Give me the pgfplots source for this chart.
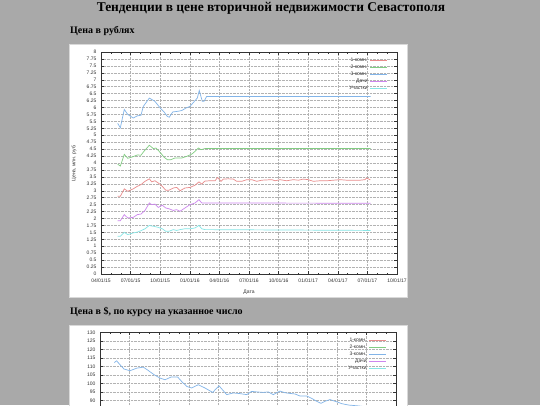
\documentclass[border=0pt]{standalone}
\usepackage{fontspec}
\setmainfont{Liberation Serif}
\newfontfamily\gp{Liberation Sans}
\usepackage{pgfplots}
\pgfplotsset{compat=1.18}

\definecolor{pagegray}{RGB}{169,169,169}
\definecolor{gpred}{RGB}{232,140,140}
\definecolor{gpgreen}{RGB}{130,205,130}
\definecolor{gpblue}{RGB}{130,180,232}
\definecolor{gppurple}{RGB}{205,135,238}
\definecolor{gpcyan}{RGB}{135,230,230}

% months since 04/01/15
\pgfplotsset{
  gnu/.style={
    scale only axis, width=296pt, height=222pt,
    xmin=0, xmax=30,
    xtick={0,3,...,30},
    xticklabels={04/01/15,07/01/15,10/01/15,01/01/16,04/01/16,07/01/16,10/01/16,01/01/17,04/01/17,07/01/17,10/01/17},
    minor xtick={0,...,30},
    tick align=inside,
    major tick length=3pt, minor tick length=1.5pt,
    tick style={black!80, line width=0.4pt},
    axis line style={black!80, line width=0.5pt},
    grid=major,
    grid style={densely dotted, black!30, line width=0.4pt},
    /pgf/number format/assume math mode=true,
    ticklabel style={font=\gp\fontsize{5}{6}\selectfont, text=black!80},
    yticklabel style={xshift=-1pt},
    xticklabel style={yshift=-1pt},
    label style={font=\gp\fontsize{5}{6}\selectfont, text=black!80},
    xlabel style={at={(rel axis cs:0.5,0)}, anchor=center, yshift=-18pt},
    ylabel style={at={(rel axis cs:0,0.5)}, anchor=center, yshift=27pt},
    legend cell align=right,
    legend plot pos=right,
    legend image code/.code={\draw[#1] (0pt,0pt) -- (17pt,0pt);},
    legend style={draw=none, fill=none, font=\gp\fontsize{5}{6}\selectfont,
      at={(rel axis cs:1,1)}, anchor=north east, xshift=-6pt, yshift=-2.5pt,
      nodes={inner sep=1pt, text height=3.7pt, text depth=1.3pt, text=black!80},
      column sep=1.5pt},
    every axis plot/.append style={line width=0.7pt},
  }
}

\begin{document}
\begin{tikzpicture}
\useasboundingbox (0pt,0pt) rectangle (540pt,-405pt);
\clip (0pt,0pt) rectangle (540pt,-405pt);
\fill[pagegray] (0pt,0pt) rectangle (540pt,-405pt);

\node[font=\bfseries\fontsize{13.4}{15}\selectfont] at (271pt,-8pt)
  {Тенденции в цене вторичной недвижимости Севастополя};
\node[anchor=west, inner sep=0pt, font=\bfseries\fontsize{10}{12}\selectfont] at (70pt,-31pt)
  {Цена в рублях};
\node[anchor=west, inner sep=0pt, font=\bfseries\fontsize{10}{12}\selectfont] at (70pt,-311.5pt)
  {Цена в \$, по курсу на указанное число};

\filldraw[fill=white, draw=black!15, line width=1pt] (69pt,-44pt) rectangle (407pt,-297pt);
\filldraw[fill=white, draw=black!15, line width=1pt] (69pt,-325pt) rectangle (407pt,-600pt);

\begin{axis}[gnu,
  at={(101pt,-52pt)}, anchor=north west,
  ymin=0, ymax=8, ytick={0,0.25,...,8},
  xlabel={Дата}, ylabel={Цена, млн. руб.},
]
\addplot[gpred] coordinates {
(1.69,2.80) (1.96,2.80) (2.36,3.07) (2.71,2.98) (3.27,3.07) (3.68,3.16)
(4.05,3.22) (4.46,3.34) (4.90,3.43) (5.14,3.32) (5.47,3.36) (5.81,3.28)
(6.21,3.16) (6.56,3.02) (6.89,3.02) (7.33,3.10) (7.67,3.12) (8.01,3.00)
(8.51,3.10) (9.02,3.12) (9.53,3.20) (9.93,3.32) (10.21,3.24) (10.54,3.35)
(11.05,3.36) (11.56,3.36) (11.82,3.48) (12.16,3.34) (12.40,3.42) (12.90,3.43)
(13.41,3.42) (13.75,3.34) (14.26,3.34) (14.77,3.40) (15.27,3.40) (15.78,3.34)
(16.29,3.38) (16.79,3.39) (17.30,3.40) (17.63,3.36) (18.14,3.40) (18.82,3.36)
(19.49,3.40) (20.00,3.38) (20.50,3.42) (21.01,3.40) (21.52,3.34) (22.20,3.36)
(22.87,3.36) (23.54,3.38) (24.22,3.40) (24.90,3.38) (25.57,3.38) (26.25,3.38)
(26.76,3.40) (26.93,3.46) (27.30,3.39)
};
\addlegendentry{1-комн.}
\addplot[gpgreen] coordinates {
(1.69,3.96) (1.96,3.89) (2.36,4.31) (2.71,4.17) (3.27,4.23) (3.68,4.29)
(4.05,4.28) (4.35,4.42) (4.90,4.64) (5.30,4.52) (5.57,4.54) (6.05,4.36)
(6.39,4.21) (6.72,4.12) (7.07,4.12) (7.50,4.18) (8.18,4.18) (8.69,4.24)
(9.20,4.32) (9.53,4.42) (9.87,4.54) (10.14,4.48) (10.54,4.52) (27.33,4.52)
};
\addlegendentry{2-комн.}
\addplot[gpblue] coordinates {
(1.69,5.43) (1.96,5.27) (2.36,5.93) (2.71,5.75) (3.27,5.62) (3.68,5.70)
(4.05,5.72) (4.29,6.04) (4.90,6.34) (5.47,6.22) (6.05,5.96) (6.39,5.84)
(6.72,5.68) (6.92,5.65) (7.27,5.84) (7.73,5.86) (8.18,5.89) (8.61,5.98)
(9.02,6.04) (9.46,6.22) (9.76,6.34) (9.96,6.61) (10.27,6.22) (10.44,6.22)
(10.71,6.40) (27.33,6.40)
};
\addlegendentry{3-комн.}
\addplot[gppurple] coordinates {
(1.69,1.92) (1.96,1.92) (2.36,2.14) (2.71,2.02) (3.27,2.04) (3.68,2.14)
(4.05,2.16) (4.46,2.29) (4.90,2.56) (5.14,2.50) (5.47,2.52) (5.81,2.40)
(6.21,2.48) (6.56,2.38) (6.89,2.35) (7.33,2.29) (7.67,2.32) (8.01,2.26)
(8.51,2.38) (9.02,2.50) (9.53,2.56) (9.93,2.68) (10.21,2.56) (10.54,2.56)
(27.33,2.55)
};
\addlegendentry{Дачи}
\addplot[gpcyan] coordinates {
(1.69,1.36) (1.96,1.36) (2.36,1.50) (2.71,1.42) (3.27,1.48) (3.68,1.51)
(4.05,1.56) (4.46,1.63) (4.90,1.75) (5.14,1.73) (5.47,1.71) (5.81,1.68)
(6.21,1.63) (6.56,1.54) (6.89,1.54) (7.33,1.60) (7.67,1.57) (8.01,1.60)
(8.51,1.63) (9.02,1.63) (9.53,1.66) (9.93,1.75) (10.21,1.63) (10.54,1.60)
(27.33,1.57)
};
\addlegendentry{Участки}
\end{axis}

\begin{axis}[gnu,
  at={(100pt,-332.3pt)}, anchor=north west,
  ymin=0, ymax=130, ytick={90,95,...,130},
  xticklabels={,,},
]
\addlegendimage{gpred}
\addlegendentry{1-комн.}
\addlegendimage{gpgreen}
\addlegendentry{2-комн.}
\addplot[gpblue] coordinates {
(1.45,112.3) (1.69,113.3) (2.03,111.0) (2.43,108.5) (3.04,107.5) (3.72,109.0)
(4.39,109.6) (4.90,107.6) (5.50,105.1) (6.08,103.2) (6.59,102.2) (7.20,103.8)
(7.87,103.8) (8.28,101.2) (8.79,98.3) (9.29,97.4) (9.96,99.3) (10.64,97.4)
(11.42,94.8) (12.06,98.7) (12.84,93.5) (13.51,94.5) (14.19,94.1) (14.87,93.5)
(15.37,95.4) (15.88,95.1) (16.55,94.8) (17.06,95.1) (17.56,93.5) (18.24,95.6)
(18.75,94.6) (19.26,94.2) (19.76,93.9) (20.27,92.7) (20.95,92.7) (21.46,91.3)
(21.96,89.6) (22.40,88.4) (22.80,89.6) (23.31,90.6) (23.82,89.6) (24.15,89.0)
(24.50,88.2) (25.20,87.4) (26.00,87.0) (26.80,86.5) (27.33,86.0)
};
\addlegendentry{3-комн.}
\addlegendimage{gppurple}
\addlegendentry{Дачи}
\addlegendimage{gpcyan}
\addlegendentry{Участки}
\end{axis}
\end{tikzpicture}
\end{document}
